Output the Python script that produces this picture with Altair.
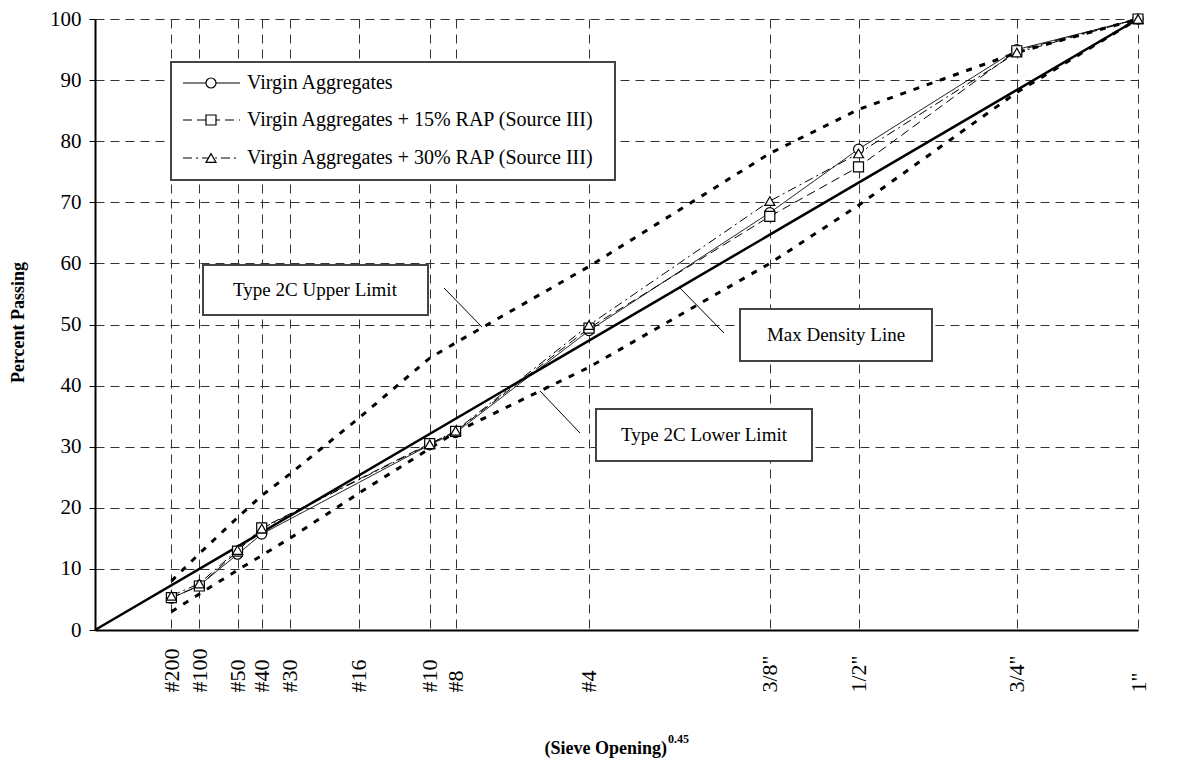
import altair as alt
import pandas as pd

# ---------------- data ----------------
sieve_labels = ['#200', '#100', '#50', '#40', '#30', '#16', '#10', '#8', '#4',
                '3/8"', '1/2"', '3/4"', '1"']
sieve_mm = [0.075, 0.15, 0.3, 0.425, 0.6, 1.18, 2.0, 2.36, 4.75, 9.5, 12.5, 19.0, 25.0]

upper_limit = [8.0, 12.5, 18.4, 22.0, 25.5, 34.7, 44.5, 47.0, 59.5, 78.0, 85.2, 94.5, 100.0]
lower_limit = [3.0, 5.9, 9.8, 12.2, 15.0, 22.4, 29.7, 32.4, 43.0, 60.0, 69.5, 88.0, 100.0]

virgin = [5.2, 7.3, 12.4, 15.7, None, None, 30.3, 32.3, 49.0, 68.3, 78.7, 95.0, 100.0]
rap15 = [5.3, 7.2, 12.9, 16.7, None, None, 30.5, 32.5, 49.4, 67.7, 75.8, 94.8, 100.0]
rap30 = [5.6, 7.6, 13.1, 16.6, None, None, 30.4, 32.6, 49.9, 70.2, 78.0, 94.5, 100.0]

mdl_mm = [0.0, 25.0]
mdl_pct = [0.0, 100.0]

series_names = ['Virgin Aggregates',
                'Virgin Aggregates + 15% RAP (Source III)',
                'Virgin Aggregates + 30% RAP (Source III)']
series_dash = [[1, 0], [9, 5], [9, 4, 2, 4]]
series_shape = ['circle', 'square', 'triangle-up']

# ---------------- tables ----------------
rows = []
for name, vals in zip(series_names, [virgin, rap15, rap30]):
    for mm, v in zip(sieve_mm, vals):
        if v is not None:
            rows.append({'series': name, 'mm': mm, 'pct': v})
series_df = pd.DataFrame(rows)

lim_rows = []
for lname, vals in [('Upper', upper_limit), ('Lower', lower_limit)]:
    for mm, v in zip(sieve_mm, vals):
        lim_rows.append({'limit': lname, 'mm': mm, 'pct': v})
limit_df = pd.DataFrame(lim_rows)

mdl_df = pd.DataFrame({'mm': mdl_mm, 'pct': mdl_pct})
dummy = pd.DataFrame({'a': [0]})

# ---------------- layout ----------------
FONT = 'Liberation Serif'
PAD_L, PAD_T = 87, 11
X0, Y0 = 8 + PAD_L, 8 + PAD_T          # page position of plot origin
W, H = 1043, 630 - Y0
PAD_B = 767 - 8 - PAD_T - H


def px(x):
    return x - X0


def py(y):
    return y - Y0


# ---------------- scales / axes ----------------
label_expr = ''
for v, lab in zip(sieve_mm, sieve_labels):
    label_expr += f"datum.value == {v} ? '{lab}' : "
label_expr += "''"

x_enc = alt.X('mm:Q',
              scale=alt.Scale(type='pow', exponent=0.45, domain=[0, 25], nice=False, zero=True),
              axis=alt.Axis(values=sieve_mm, labelExpr=label_expr, labelAngle=270,
                            labelAlign='left', labelBaseline='middle', labelPadding=62,
                            ticks=False, tickSize=0, grid=True, gridDash=[9, 6],
                            gridColor='#333333', gridWidth=1, domainColor='black',
                            domainWidth=2, labelFont=FONT, labelFontSize=22,
                            labelColor='black', labelOverlap=False, labelFlush=False,
                            title=None))
y_enc = alt.Y('pct:Q',
              scale=alt.Scale(domain=[0, 100], nice=False),
              axis=alt.Axis(values=list(range(0, 101, 10)), grid=True, gridDash=[9, 6],
                            gridColor='#333333', gridWidth=1, domainColor='black',
                            domainWidth=2, tickColor='black', tickSize=6, tickWidth=1,
                            labelFont=FONT, labelFontSize=21, labelColor='black',
                            labelPadding=8, title='Percent Passing', titleFont=FONT,
                            titleFontSize=18, titleFontWeight='bold', titleColor='black',
                            titleX=px(18), titleY=py(322), titleAngle=270,
                            titleAlign='center', titleBaseline='middle'))

layers = []

limits = alt.Chart(limit_df).mark_line(color='black', strokeWidth=3, strokeDash=[6, 8],
                                       strokeCap='butt').encode(
    x=x_enc, y=y_enc, detail='limit:N')
layers.append(limits)

mdl = alt.Chart(mdl_df).mark_line(color='black', strokeWidth=2.5).encode(x=x_enc, y=y_enc)
layers.append(mdl)

lines = alt.Chart(series_df).mark_line(color='black', strokeWidth=1).encode(
    x=x_enc, y=y_enc,
    strokeDash=alt.StrokeDash('series:N', scale=alt.Scale(domain=series_names, range=series_dash),
                              legend=None),
    detail='series:N')
layers.append(lines)

pts = alt.Chart(series_df).mark_point(filled=False, fill='white', stroke='black', strokeWidth=1.2,
                                      size=100, opacity=1).encode(
    x=x_enc, y=y_enc,
    shape=alt.Shape('series:N', scale=alt.Scale(domain=series_names, range=series_shape),
                    legend=None))
layers.append(pts)

# ---------------- annotations (page-pixel layout) ----------------
annotations = [
    # text, box (x1, x2, y1, y2), text center, pointer (x1, y1, x2, y2)
    ('Type 2C Upper Limit', (203, 428, 265, 315), (315, 290), (444, 288, 482, 327)),
    ('Max Density Line', (740, 932, 309, 361), (836, 335), (679, 287, 724, 333)),
    ('Type 2C Lower Limit', (596, 812, 409, 461), (704, 435), (540, 391, 580, 433)),
]
for txt, (bx1, bx2, by1, by2), (tx, ty), (qx1, qy1, qx2, qy2) in annotations:
    layers.append(alt.Chart(dummy).mark_rule(color='black', strokeWidth=1).encode(
        x=alt.value(px(qx1)), y=alt.value(py(qy1)), x2=alt.value(px(qx2)), y2=alt.value(py(qy2))))
    layers.append(alt.Chart(dummy).mark_rect(fill='white', stroke='#444444', strokeWidth=2).encode(
        x=alt.value(px(bx1)), x2=alt.value(px(bx2)), y=alt.value(py(by1)), y2=alt.value(py(by2))))
    layers.append(alt.Chart(dummy).mark_text(text=txt, font=FONT, fontSize=19, color='black',
                                             align='center', baseline='middle').encode(
        x=alt.value(px(tx)), y=alt.value(py(ty))))

# ---------------- legend ----------------
LX1, LX2, LY1, LY2 = 171, 615, 62, 180
row_y = [83, 120, 158]
layers.append(alt.Chart(dummy).mark_rect(fill='white', stroke='#444444', strokeWidth=2).encode(
    x=alt.value(px(LX1)), x2=alt.value(px(LX2)), y=alt.value(py(LY1)), y2=alt.value(py(LY2))))
for name, dash, shp, ry in zip(series_names, series_dash, series_shape, row_y):
    layers.append(alt.Chart(dummy).mark_rule(color='black', strokeWidth=1.2, strokeDash=dash).encode(
        x=alt.value(px(183)), x2=alt.value(px(240)), y=alt.value(py(ry))))
    layers.append(alt.Chart(dummy).mark_point(shape=shp, filled=False, fill='white', stroke='black',
                                              strokeWidth=1.2, size=100, opacity=1).encode(
        x=alt.value(px(211)), y=alt.value(py(ry))))
    layers.append(alt.Chart(dummy).mark_text(text=name, font=FONT, fontSize=20, color='black',
                                             align='left', baseline='middle').encode(
        x=alt.value(px(247)), y=alt.value(py(ry))))

# ---------------- x title with superscript ----------------
layers.append(alt.Chart(dummy).mark_text(text='(Sieve Opening)', font=FONT, fontSize=18,
                                         fontWeight='bold', color='black', align='right',
                                         baseline='alphabetic').encode(
    x=alt.value(px(667)), y=alt.value(py(754))))
layers.append(alt.Chart(dummy).mark_text(text='0.45', font=FONT, fontSize=12,
                                         fontWeight='bold', color='black', align='left',
                                         baseline='alphabetic').encode(
    x=alt.value(px(668)), y=alt.value(py(743))))

chart = alt.layer(*layers).properties(
    width=W, height=H,
    autosize=alt.AutoSizeParams(type='none'),
    padding={'left': PAD_L, 'top': PAD_T, 'right': 40, 'bottom': PAD_B},
).configure_view(stroke=None)

chart.save('out.html', embed_options={'renderer': 'svg', 'actions': False})
